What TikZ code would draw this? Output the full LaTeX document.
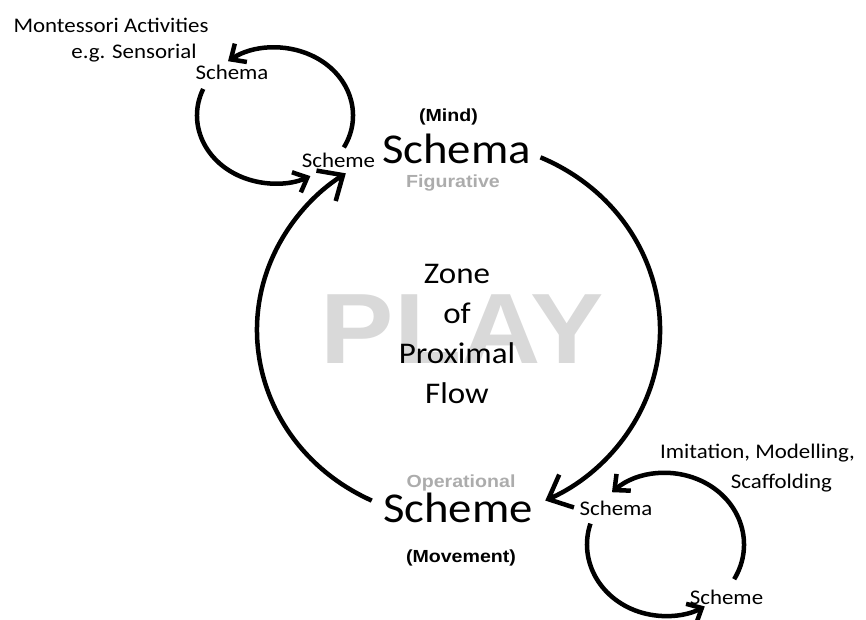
\documentclass[tikz,border=0pt]{standalone}
\usepackage{fontspec}
\usetikzlibrary{arrows.meta}
\newfontfamily\calfont[FakeStretch=1.1]{Carlito}
\newfontfamily\arfont[FakeStretch=1.12]{Liberation Sans}
\newfontfamily\playfont[FakeStretch=1.1]{Liberation Sans}
\definecolor{lgray}{RGB}{217,217,217}
\definecolor{mgray}{RGB}{172,172,172}
\begin{document}
\begin{tikzpicture}[x=1pt,y=1pt,
  lbl/.style={inner sep=0pt, anchor=base, font=\calfont\fontsize{20.8}{24}\selectfont},
  bigword/.style={inner sep=0pt, anchor=base, font=\calfont\fontsize{42.5}{50}\selectfont},
  boldword/.style={inner sep=0pt, anchor=base, font=\arfont\bfseries\fontsize{17.5}{21}\selectfont},
  loopline/.style={line width=4.5pt},
  bigtip/.style={-{Straight Barb[length=20pt,width=36pt]}},
  smalltip/.style={-{Straight Barb[length=12pt,width=22pt]}}]
\useasboundingbox (0,0) rectangle (866,-619);
% background word
\node[inner sep=0pt, anchor=base, text=lgray, font=\playfont\bfseries\fontsize{100}{110}\selectfont] (play) at (462.5,-363) {PLAY};
% center text
\node[inner sep=0pt, anchor=base, align=center, font=\calfont\fontsize{30}{39.7}\selectfont] (zone) at (457,-403) {Zone\\of\\Proximal\\Flow};
% top
\node[boldword] (mind) at (448.5,-121) {(Mind)};
\node[bigword] (schemaL) at (456.5,-163) {Schema};
\node[boldword, text=mgray] (fig) at (453,-187) {Figurative};
% bottom
\node[boldword, text=mgray] (oper) at (461,-487) {Operational};
\node[bigword] (schemeL) at (458,-522) {Scheme};
\node[boldword] (move) at (461,-562) {(Movement)};
% top-left labels
\node[lbl] (mont) at (111,-32) {Montessori Activities};
\node[lbl] (eg) at (134,-58) {e.g. Sensorial};
\node[lbl] (schemaS1) at (232,-79) {Schema};
\node[lbl] (schemeS1) at (338.5,-167) {Scheme};
% bottom-right labels
\node[lbl] (imit) at (757.5,-458) {Imitation, Modelling,};
\node[lbl] (scaf) at (781.5,-488) {Scaffolding};
\node[lbl] (schemaS2) at (616,-515) {Schema};
\node[lbl] (schemeS2) at (726.5,-604) {Scheme};
% loop centres
\coordinate (bigc) at (458.5,-330);
\coordinate (c1) at (275,-115.5);
\coordinate (c2) at (665.5,-544.5);
% big loop
\draw[loopline,bigtip] ([shift={(66:201.5 and 189)}]bigc) arc[start angle=66,end angle=-64.5,x radius=201.5,y radius=189];
\draw[loopline,bigtip] ([shift={(244.5:201.5 and 189)}]bigc) arc[start angle=244.5,end angle=124,x radius=201.5,y radius=189];
% top-left loop
\draw[loopline,smalltip] ([shift={(157:78 and 68)}]c1) arc[start angle=157,end angle=297,x radius=78,y radius=68];
\draw[loopline,smalltip] ([shift={(-28:78 and 68)}]c1) arc[start angle=-28,end angle=127,x radius=78,y radius=68];
% bottom-right loop
\draw[loopline,smalltip] ([shift={(-29:78.5 and 71.5)}]c2) arc[start angle=-29,end angle=133,x radius=78.5,y radius=71.5];
\draw[loopline,smalltip] ([shift={(163:78.5 and 71.5)}]c2) arc[start angle=163,end angle=300,x radius=78.5,y radius=71.5];
\end{tikzpicture}
\end{document}
